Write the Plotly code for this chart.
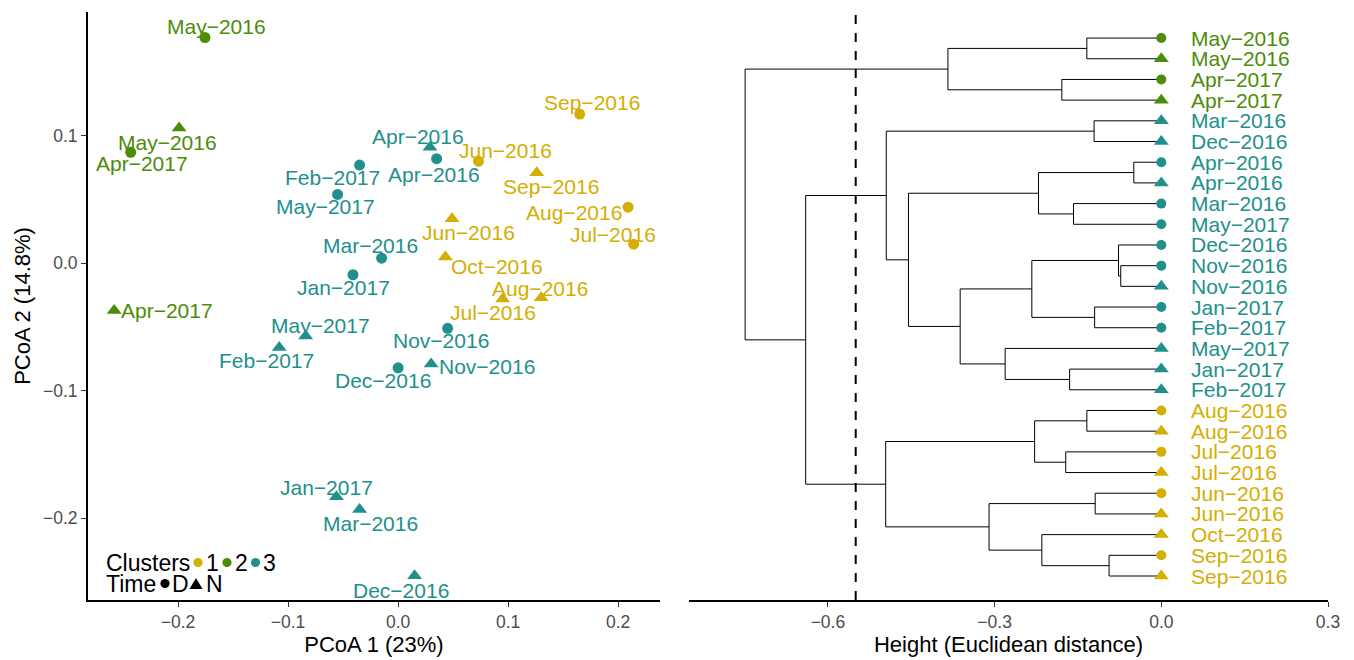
import plotly.graph_objects as go

# ---------------- data ----------------
months = ["May−2016", "May−2016", "Apr−2017", "Apr−2017", "Mar−2016", "Dec−2016",
          "Apr−2016", "Apr−2016", "Mar−2016", "May−2017", "Dec−2016", "Nov−2016",
          "Nov−2016", "Jan−2017", "Feb−2017", "May−2017", "Jan−2017", "Feb−2017",
          "Aug−2016", "Aug−2016", "Jul−2016", "Jul−2016", "Jun−2016", "Jun−2016",
          "Oct−2016", "Sep−2016", "Sep−2016"]
time_of_day = ["D", "N", "D", "N", "N", "N", "D", "N", "D", "D", "D", "D", "N", "D",
               "D", "N", "N", "N", "D", "N", "D", "N", "D", "N", "N", "D", "N"]
cluster = [2, 2, 2, 2, 3, 3, 3, 3, 3, 3, 3, 3, 3, 3, 3, 3, 3, 3,
           1, 1, 1, 1, 1, 1, 1, 1, 1]
pcoa1 = [-0.1755, -0.199, -0.243, -0.258, -0.035, 0.015, 0.035, 0.029, -0.015, -0.055,
         0.000, 0.045, 0.030, -0.041, -0.035, -0.084, -0.056, -0.108,
         0.209, 0.130, 0.214, 0.095, 0.073, 0.049, 0.043, 0.165, 0.126]
pcoa2 = [0.177, 0.106, 0.087, -0.037, -0.193, -0.245, 0.082, 0.091, 0.004, 0.054,
         -0.082, -0.051, -0.079, -0.009, 0.077, -0.057, -0.183, -0.066,
         0.044, -0.027, 0.015, -0.028, 0.080, 0.035, 0.005, 0.117, 0.071]

# hierarchical clustering merges (negative = leaf index, positive = earlier merge)
merge_a = [-1, -3, 1, -5, -7, -9, 5, -12, -11, -14, 9, -17, -16, 11, 7, 4,
           -19, -21, 17, -23, -26, -25, 20, 19, 16, 3]
merge_b = [-2, -4, 2, -6, -8, -10, 6, -13, 8, -15, 10, -18, 12, 13, 14, 15,
           -20, -22, 18, -24, -27, 21, 22, 23, 24, 25]
merge_height = [-0.134, -0.179, -0.384, -0.121, -0.0495, -0.158, -0.221, -0.073,
                -0.077, -0.120, -0.233, -0.165, -0.281, -0.362, -0.455, -0.495,
                -0.134, -0.172, -0.228, -0.119, -0.094, -0.215, -0.310, -0.496,
                -0.640, -0.749]
cut_height = -0.55

x_ticks = [-0.2, -0.1, 0.0, 0.1, 0.2]
y_ticks = [-0.2, -0.1, 0.0, 0.1]
h_ticks = [-0.6, -0.3, 0.0, 0.3]

legend_clusters = ["1", "2", "3"]
legend_times = ["D", "N"]

# ---------------- styles ----------------
colors = {1: "#D4AE00", 2: "#4C8C08", 3: "#21908C"}
symbols = {"D": "circle", "N": "triangle-up"}
FONT = "Liberation Sans, Arial, Helvetica, sans-serif"
LBL = 21
TICK = 17.5
TITLE = 22
W, H = 1354, 660
OFF = 8  # page body margin


def px(xp):
    return (xp - OFF) / W


def py(yp):
    return (H - (yp - OFF)) / H


# label offsets (pixels: dx right, dy down) and anchors for the PCoA panel
lab_dx = [12, -12, 11, 5, 11, -14, -3, -12, -11, -12, -15, -7, 6, -9, -27, 15, -10, -13,
          -4, -1, -21, -10, 27, 16, 4, 12, 14]
lab_dy = [-11, 14, 11, 0, 14, 15, 16, -11, -13, 12, 13, 12, 2, 13, 12, -10, -9, 13,
          5, -9, -10, 14, -11, 14, 10, -12, 14]
lab_anchor = ["center"] * 27
lab_anchor[3] = "left"
lab_anchor[12] = "left"
lab_anchor[24] = "left"
lab_anchor[18] = "right"

fig = go.Figure()

# ---------------- PCoA scatter ----------------
for t in ["D", "N"]:
    idx = [i for i in range(27) if time_of_day[i] == t]
    fig.add_trace(go.Scatter(
        x=[pcoa1[i] for i in idx], y=[pcoa2[i] for i in idx],
        mode="markers",
        marker=dict(symbol=symbols[t], size=11 if t == "D" else 13,
                    color=[colors[cluster[i]] for i in idx], line=dict(width=0)),
        xaxis="x", yaxis="y", showlegend=False, hoverinfo="skip"))

annotations = []
for i in range(27):
    annotations.append(dict(
        x=pcoa1[i], y=pcoa2[i], xref="x", yref="y", text=months[i], showarrow=False,
        xanchor=lab_anchor[i], yanchor="middle", xshift=lab_dx[i], yshift=-lab_dy[i],
        font=dict(family=FONT, size=LBL, color=colors[cluster[i]])))

# ---------------- dendrogram ----------------
n_leaves = len(months)
leaf_y = list(range(1, n_leaves + 1))
node_pos = []  # (height, y) for each merge


def child_pos(c):
    if c < 0:
        return 0.0, leaf_y[-c - 1]
    return node_pos[c - 1]


seg_x, seg_y = [], []
for a, b, h in zip(merge_a, merge_b, merge_height):
    ha, ya = child_pos(a)
    hb, yb = child_pos(b)
    seg_x += [h, h, None, h, ha, None, h, hb, None]
    seg_y += [ya, yb, None, ya, ya, None, yb, yb, None]
    node_pos.append((h, (ya + yb) / 2))

fig.add_trace(go.Scatter(x=seg_x, y=seg_y, mode="lines",
                         line=dict(color="black", width=1),
                         xaxis="x2", yaxis="y2", showlegend=False, hoverinfo="skip"))

for t in ["D", "N"]:
    idx = [i for i in range(27) if time_of_day[i] == t]
    fig.add_trace(go.Scatter(
        x=[0.0] * len(idx), y=[leaf_y[i] for i in idx], mode="markers",
        marker=dict(symbol=symbols[t], size=10 if t == "D" else 13,
                    color=[colors[cluster[i]] for i in idx], line=dict(width=0)),
        xaxis="x2", yaxis="y2", showlegend=False, hoverinfo="skip"))

for i in range(27):
    annotations.append(dict(
        x=0.0, y=leaf_y[i], xref="x2", yref="y2", text=months[i], showarrow=False,
        xanchor="left", yanchor="middle", xshift=28,
        font=dict(family=FONT, size=LBL, color=colors[cluster[i]])))

# ---------------- legend (text + shapes) ----------------
shapes = []
LEG = 23
row1, row2 = 562.5, 583.5


def leg_text(x, y, s):
    annotations.append(dict(x=px(x), y=py(y), xref="paper", yref="paper", text=s,
                            xanchor="left", yanchor="middle", showarrow=False,
                            height=19, borderpad=0, valign="middle",
                            font=dict(family=FONT, size=LEG, color="black")))


def leg_dot(x, y, col, r=4.6):
    shapes.append(dict(type="circle", xref="paper", yref="paper", xsizemode="pixel",
                       ysizemode="pixel", xanchor=px(x), yanchor=py(y),
                       x0=-r, x1=r, y0=-r, y1=r, fillcolor=col, line=dict(width=0)))


leg_text(105, row1, "Clusters")
for k, (lab, xd, xt) in enumerate(zip(legend_clusters, [198, 227, 255.5], [205, 234, 262])):
    leg_dot(xd, row1, colors[int(lab)])
    leg_text(xt, row1, lab)
leg_text(105, row2, "Time")
leg_dot(165, row2, "black")
leg_text(171, row2, legend_times[0])
shapes.append(dict(type="path", xref="paper", yref="paper", xsizemode="pixel",
                   ysizemode="pixel", xanchor=px(196), yanchor=py(row2 + 0.5),
                   path="M -6.5,-5 L 6.5,-5 L 0,6 Z", fillcolor="black", line=dict(width=0)))
leg_text(205, row2, legend_times[1])

shapes.append(dict(type="line", xref="x2", yref="y2 domain", x0=cut_height, x1=cut_height,
                   y0=0, y1=1, line=dict(color="black", width=2, dash="dash")))

axis_common = dict(showgrid=False, zeroline=False, showline=True, linecolor="black",
                   linewidth=1.8, ticks="outside", ticklen=5, tickcolor="#333333",
                   tickwidth=1, tickformat=".1f", automargin=False,
                   tickfont=dict(family=FONT, size=TICK, color="#4D4D4D"),
                   mirror=False)

fig.update_layout(
    width=W, height=H,
    margin=dict(l=0, r=0, t=0, b=0, autoexpand=False),
    paper_bgcolor="white", plot_bgcolor="white",
    font=dict(family=FONT),
    xaxis=dict(domain=[px(88), px(660)], range=[-0.2818, 0.238], tickvals=x_ticks,
               title=dict(text="PCoA 1 (23%)", font=dict(family=FONT, size=TITLE, color="black"),
                          standoff=4),
               anchor="y", **axis_common),
    yaxis=dict(domain=[py(600), py(12)], range=[-0.264, 0.197], tickvals=y_ticks,
               title=dict(text="PCoA 2 (14.8%)", font=dict(family=FONT, size=TITLE, color="black"),
                          standoff=6),
               anchor="x", **axis_common),
    xaxis2=dict(domain=[px(689), px(1328)], range=[-0.85, 0.3], tickvals=h_ticks,
                title=dict(text="Height (Euclidean distance)",
                           font=dict(family=FONT, size=TITLE, color="black"), standoff=4),
                anchor="y2", **axis_common),
    yaxis2=dict(domain=[py(600), py(12)], range=[n_leaves + 1.16, -0.26], visible=False,
                anchor="x2"),
    annotations=annotations,
    shapes=shapes,
)

fig.write_html("out.html")
